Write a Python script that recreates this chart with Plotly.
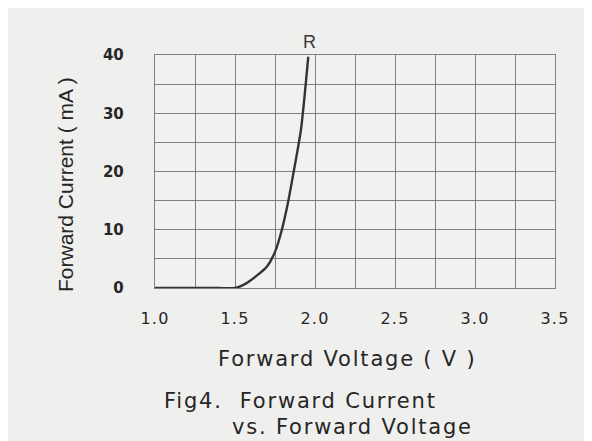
import plotly.graph_objects as go

# Data
voltage = [1.0, 1.2, 1.4, 1.5, 1.57, 1.64, 1.70, 1.75, 1.79, 1.83, 1.865, 1.89, 1.912, 1.935, 1.958]
current = [0.0, 0.0, 0.0, 0.0, 0.8, 2.2, 3.7, 6.2, 9.7, 14.5, 19.7, 23.5, 27.1, 33.0, 39.7]

x_ticks = [1.0, 1.25, 1.5, 1.75, 2.0, 2.25, 2.5, 2.75, 3.0, 3.25, 3.5]
x_labels = ["1.0", "", "1.5", "", "2.0", "", "2.5", "", "3.0", "", "3.5"]
y_ticks = [0, 5, 10, 15, 20, 25, 30, 35, 40]
y_labels = ["0", "", "10", "", "20", "", "30", "", "40"]

series_label = "R"
x_title = "Forward Voltage ( V )"
y_title = "Forward Current ( mA )"
caption_1 = "Fig4.&nbsp;&nbsp;Forward Current"
caption_2 = "vs. Forward Voltage"

wide = "DejaVu Sans, Verdana, sans-serif"
narrow = "Liberation Sans, Arial, sans-serif"
ink = "#262626"


def spaced(t, px):
    return f'<span style="letter-spacing:{px}px">{t}</span>' if t else ""


fig = go.Figure()
fig.add_trace(go.Scatter(
    x=voltage, y=current, mode="lines",
    line=dict(color="#333333", width=2.4, shape="spline", smoothing=0.6),
    showlegend=False, hoverinfo="skip",
))

fig.add_annotation(x=voltage[-1], y=current[-1], text=series_label, showarrow=False,
                   yshift=15, xshift=1,
                   font=dict(family=narrow, size=18, color="#3a3a3a"))

fig.update_layout(
    width=592, height=441,
    margin=dict(l=147, r=45, t=47, b=161),
    paper_bgcolor="#efefee",
    plot_bgcolor="#f1f1f0",
    font=dict(family=wide, color=ink),
    xaxis=dict(
        range=[1.0, 3.5], tickvals=x_ticks, ticktext=[spaced(t, 1.2) for t in x_labels],
        showgrid=True, gridcolor="#808080", gridwidth=1.4,
        zeroline=False, showline=True, linecolor="#808080", linewidth=1.4, mirror=True,
        ticks="outside", ticklen=16, tickcolor="rgba(0,0,0,0)",
        tickfont=dict(family=wide, size=16, color=ink),
    ),
    yaxis=dict(
        range=[0, 40], tickvals=y_ticks, ticktext=y_labels,
        showgrid=True, gridcolor="#808080", gridwidth=1.4,
        zeroline=False, showline=True, linecolor="#808080", linewidth=1.4, mirror=True,
        ticks="outside", ticklen=27, tickcolor="rgba(0,0,0,0)",
        tickfont=dict(family=wide, size=15, color=ink, weight="bold"),
    ),
)

fig.add_annotation(xref="paper", yref="paper", x=0.48, y=-0.305, xanchor="center", yanchor="middle",
                   text=spaced(x_title, 1.8), showarrow=False,
                   font=dict(family=wide, size=21, color=ink))
fig.add_annotation(xref="paper", yref="paper", x=-0.225, y=0.442, xanchor="center", yanchor="middle",
                   text=y_title, showarrow=False, textangle=-90,
                   font=dict(family=narrow, size=21, color=ink))
fig.add_annotation(xref="paper", yref="paper", x=0.0175, y=-0.485, xanchor="left", yanchor="middle",
                   text=spaced(caption_1, 1.8), showarrow=False,
                   font=dict(family=wide, size=21, color=ink))
fig.add_annotation(xref="paper", yref="paper", x=0.1875, y=-0.597, xanchor="left", yanchor="middle",
                   text=spaced(caption_2, 1.8), showarrow=False,
                   font=dict(family=wide, size=21, color=ink))

fig.write_html("out.html")
